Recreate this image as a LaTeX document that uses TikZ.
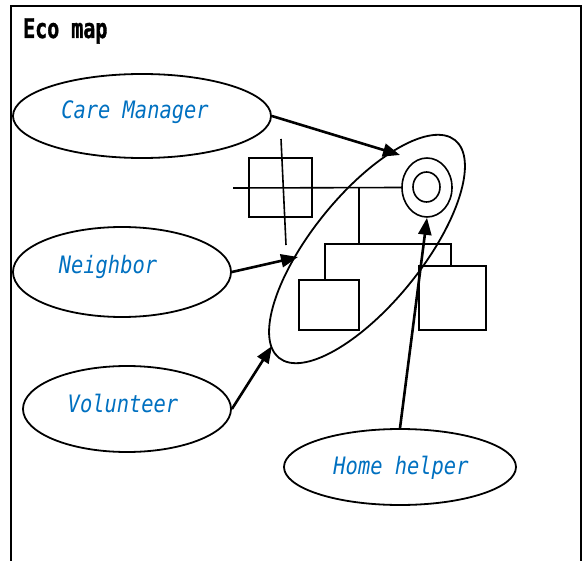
\documentclass[tikz,border=0pt]{standalone}
\usepackage{fontspec}
\usetikzlibrary{shapes.geometric,arrows.meta}
\newfontfamily\labfont[FakeStretch=0.85]{DejaVu Sans Mono}
\newfontfamily\titfont[FakeStretch=0.74,FakeBold=1.2]{DejaVu Sans Mono}
\definecolor{labblue}{RGB}{0,112,192}
\begin{document}
\begin{tikzpicture}[x=1pt,y=-1pt,
  oval/.style={ellipse,draw,line width=1.8pt,inner sep=0},
  lab/.style={anchor=base,inner sep=0,text=labblue,font=\labfont\itshape\fontsize{24}{26}\selectfont},
  geno/.style={draw,line width=1.6pt,inner sep=0},
  gline/.style={line width=1.6pt},
  conn/.style={line width=2.6pt,-{Triangle[length=17pt,width=13pt]}}]
\useasboundingbox (0,0) rectangle (583,561);
% frame
\draw[line width=2pt] (11,563) -- (11,6) -- (581,6) -- (581,563);
\node[anchor=base west,inner sep=0,font=\titfont\bfseries\fontsize{27}{29}\selectfont] (title) at (23,38) {Eco map};
% outer ellipses
\node[oval,minimum width=258pt,minimum height=84pt] (cm) at (142,116) {};
\node[oval,minimum width=218pt,minimum height=90pt] (nb) at (122,272) {};
\node[oval,minimum width=208pt,minimum height=86pt] (vo) at (127,409) {};
\node[oval,minimum width=232pt,minimum height=76pt] (hh) at (400,467) {};
\node[lab] (cmt) at (135,119) {Care Manager};
\node[lab] (nbt) at (108,273) {Neighbor};
\node[lab] (vot) at (123,412) {Volunteer};
\node[lab] (hht) at (401,474) {Home helper};
% genogram
\node[geno,minimum width=63pt,minimum height=59pt] (sq) at (280.5,187.5) {};
\node[geno,ellipse,minimum width=50pt,minimum height=59pt] (circ) at (427,187.5) {};
\node[geno,ellipse,minimum width=27pt,minimum height=30pt] (inner) at (426.5,187) {};
\node[geno,minimum width=60pt,minimum height=50pt] (c1) at (329,305) {};
\node[geno,minimum width=67pt,minimum height=64pt] (c2) at (452.5,298) {};
\coordinate (ml) at (233,188);
\coordinate (mj) at (359,188);
\coordinate (sj) at (359,244);
\coordinate (s1) at (325,244);
\coordinate (s2) at (451,244);
\coordinate (x1) at (281,139);
\coordinate (x2) at (286,245);
\draw[gline] (ml) -- (circ.west);
\draw[gline] (x1) -- (x2);
\draw[gline] (mj) -- (sj);
\draw[gline] (s1 |- c1.north) -- (s1) -- (s2) -- (s2 |- c2.north);
% family boundary
\node[draw,ellipse,line width=1.8pt,minimum width=280pt,minimum height=110pt,inner sep=0,rotate=51] (fam) at (367,249) {};
% connectors
\coordinate (t1) at (400,155);
\coordinate (t2) at (298,257);
\coordinate (t3) at (272,346);
\draw[conn] (cm.east) -- (t1);
\draw[conn] (nb.east) -- (t2);
\draw[conn] (vo.east) -- (t3);
\draw[conn] (hh.north) -- (circ.south);
\end{tikzpicture}
\end{document}
